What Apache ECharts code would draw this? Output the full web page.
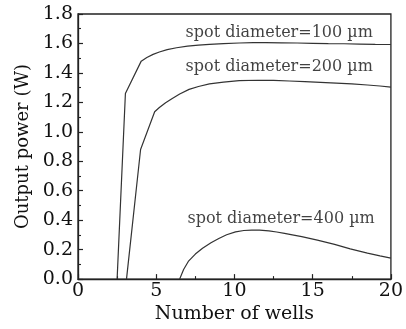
<!DOCTYPE html>
<html><head><meta charset="utf-8">
<script src="https://cdn.jsdelivr.net/npm/echarts@6/dist/echarts.min.js"></script>
<style>html,body{margin:0;padding:0;background:#fff}#c{width:406px;height:329px}</style>
</head><body><div id="c"></div>
<script>
const xTicks = [0, 5, 10, 15, 20];
const yTicks = [0.0, 0.2, 0.4, 0.6, 0.8, 1.0, 1.2, 1.4, 1.6, 1.8];
const spot100 = [[2.5,0],[3.03,1.26],[4.04,1.48],[4.4,1.505],[4.8,1.526],[5.2,1.542],[5.7,1.558],[6.3,1.571],[7.0,1.582],[7.7,1.589],[8.4,1.594],[9.3,1.599],[10.3,1.603],[11.2,1.605],[12,1.605],[13,1.604],[14,1.603],[15,1.601],[16,1.599],[17,1.598],[18,1.596],[19,1.594],[20,1.593]];
const spot200 = [[3.1,0],[4.0,0.88],[4.9,1.136],[5.2,1.165],[5.6,1.198],[6.0,1.225],[6.5,1.257],[7.1,1.288],[7.7,1.308],[8.4,1.325],[9.3,1.338],[10.3,1.347],[11.5,1.35],[12.5,1.349],[13.5,1.345],[14.5,1.341],[15.5,1.336],[16.5,1.331],[17.5,1.325],[18.5,1.318],[19.3,1.311],[20,1.303]];
const spot400 = [[6.5,0],[6.75,0.065],[7.05,0.12],[7.5,0.17],[7.96,0.21],[8.5,0.247],[9.0,0.276],[9.5,0.301],[10.07,0.321],[10.6,0.33],[11.1,0.333],[11.6,0.333],[12.2,0.328],[12.7,0.32],[13.2,0.31],[13.7,0.3],[14.3,0.288],[15.3,0.265],[16.4,0.236],[17.4,0.205],[18.5,0.176],[19.3,0.158],[20,0.143]];
const labels = ["spot diameter=100 \u00b5m", "spot diameter=200 \u00b5m", "spot diameter=400 \u00b5m"];
const labelPos = [[12.86,1.673],[12.86,1.44],[12.98,0.41]];

const serif = "DejaVu Serif";
const ink = "#111";
const chart = echarts.init(document.getElementById('c'), null, {renderer:'canvas'});
const lineStyle = {color:'#333', width:1.2};
const mk = d => ({type:'line', data:d, showSymbol:false, symbol:'none', smooth:false, lineStyle:lineStyle, silent:true, animation:false});
chart.setOption({
  animation:false,
  grid:{left:78, right:13, top:14, bottom:46, show:true, borderColor:'#222', borderWidth:1.3, backgroundColor:'transparent'},
  xAxis:{type:'value', min:0, max:20, interval:5,
    name:'Number of wells', nameLocation:'middle', nameGap:16,
    nameTextStyle:{fontFamily:serif, fontSize:19, color:ink},
    axisLine:{show:true, lineStyle:{color:'#222', width:1.3}},
    axisTick:{show:true, inside:true, length:5, lineStyle:{color:'#222', width:1.2}},
    minorTick:{show:true, splitNumber:2, length:3, lineStyle:{color:'#222', width:1.1}},
    splitLine:{show:false},
    axisLabel:{fontFamily:serif, fontSize:19, color:ink, margin:2,
      formatter: v => xTicks.includes(v) ? String(v) : ''}},
  yAxis:{type:'value', min:0, max:1.8, interval:0.2,
    name:'Output power (W)', nameLocation:'middle', nameGap:40,
    nameTextStyle:{fontFamily:serif, fontSize:18, color:ink},
    axisLine:{show:true, lineStyle:{color:'#222', width:1.3}},
    axisTick:{show:true, inside:true, length:5, lineStyle:{color:'#222', width:1.2}},
    minorTick:{show:true, splitNumber:2, length:3, lineStyle:{color:'#222', width:1.1}},
    splitLine:{show:false},
    axisLabel:{fontFamily:serif, fontSize:19, color:ink, margin:5,
      formatter: v => { const t = yTicks.find(y => Math.abs(y - v) < 1e-6); return t === undefined ? '' : t.toFixed(1); }}},
  series:[
    mk(spot100), mk(spot200), mk(spot400),
    {type:'scatter', symbolSize:0, silent:true, animation:false,
     data: labelPos.map((p,i)=>({value:p, label:{show:true, position:'inside', formatter:labels[i],
       fontFamily:serif, fontSize:16, color:ink}}))}
  ]
});
</script></body></html>
